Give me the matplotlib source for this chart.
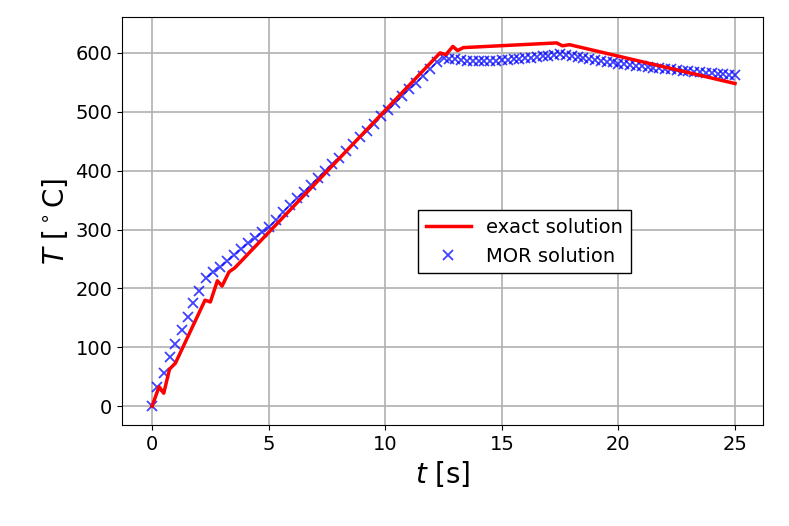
import matplotlib
matplotlib.use("Agg")
import matplotlib.pyplot as plt

exact_t = [0, 0.3, 0.5, 0.75, 1.0, 2.27, 2.5, 2.8, 3.0, 3.3, 3.55, 12.35, 12.6, 12.9, 13.1, 13.35, 17.35, 17.6, 17.9, 25.0]
exact_T = [0, 33, 22, 63, 73, 180, 177, 213, 204, 228, 235, 600, 597, 611, 604, 609, 617, 612, 614, 548]

mor_t = [0, 0.2, 0.5, 0.75, 1.0, 1.3, 1.55, 1.75, 2.0, 2.3,
         2.6, 2.9, 3.2, 3.5, 3.8, 4.1, 4.4, 4.7, 5.0, 5.3, 5.6, 5.9, 6.2, 6.5, 6.8,
         7.1, 7.4, 7.7, 8.0, 8.3, 8.6, 8.9, 9.2, 9.5, 9.8, 10.1, 10.4, 10.7, 11.0,
         11.3, 11.6, 11.9, 12.2,
         12.5, 12.75, 13.0, 13.25, 13.5, 13.75, 14.0, 14.25, 14.5, 14.75, 15.0,
         15.25, 15.5, 15.75, 16.0, 16.25, 16.5, 16.75, 17.0, 17.25, 17.5,
         17.75, 18.0, 18.25, 18.5, 18.75, 19.0, 19.25, 19.5, 19.75, 20.0,
         20.25, 20.5, 20.75, 21.0, 21.25, 21.5, 21.75, 22.0, 22.25, 22.5,
         22.75, 23.0, 23.25, 23.5, 23.75, 24.0, 24.25, 24.5, 24.75, 25.0]
mor_T = [0, 33, 56, 83, 105, 130, 152, 175, 196, 218,
         228, 237, 247, 257, 267, 277, 286, 295, 305, 317, 329, 341, 353, 364, 376,
         387, 399, 411, 422, 434, 445, 457, 468, 480, 492, 503, 515, 526, 538,
         549, 561, 573, 585,
         592, 590, 589, 588, 587, 587, 586, 586, 587, 587, 588,
         588, 589, 590, 591, 592, 593, 594, 595, 597, 598,
         596, 594, 593, 591, 590, 588, 587, 585, 584, 582,
         581, 580, 578, 577, 576, 575, 574, 573, 572, 571,
         570, 569, 568, 567, 566, 566, 565, 564, 563, 563]

fig = plt.figure(figsize=(7.89, 5.26), dpi=100)
ax = fig.add_axes([122/789, 1-425/526, (763-122)/789, (425-17)/526])
ax.plot(exact_t, exact_T, color="red", lw=2.5, label="exact solution", zorder=3)
ax.plot(mor_t, mor_T, "x", color="blue", ms=7, mew=1.3, alpha=0.75, label="MOR solution", zorder=2)
ax.set_xlim(-1.29, 26.2)
ax.set_ylim(-32, 661)
ax.set_xticks([0, 5, 10, 15, 20, 25])
ax.set_yticks([0, 100, 200, 300, 400, 500, 600])
ax.tick_params(labelsize=14)
ax.grid(True, color="#b0b0b0", lw=1.2)
ax.set_xlabel(r"$t$ [s]", fontsize=20)
ax.set_ylabel(r"$T$ [$^\circ$C]", fontsize=20)
ax.legend(loc="upper left", bbox_to_anchor=((418-122)/641, (425-210)/408),
          fontsize=14, fancybox=False, edgecolor="black", framealpha=1,
          borderaxespad=0, handlelength=2.3)
fig.savefig("out.png", dpi=100)
